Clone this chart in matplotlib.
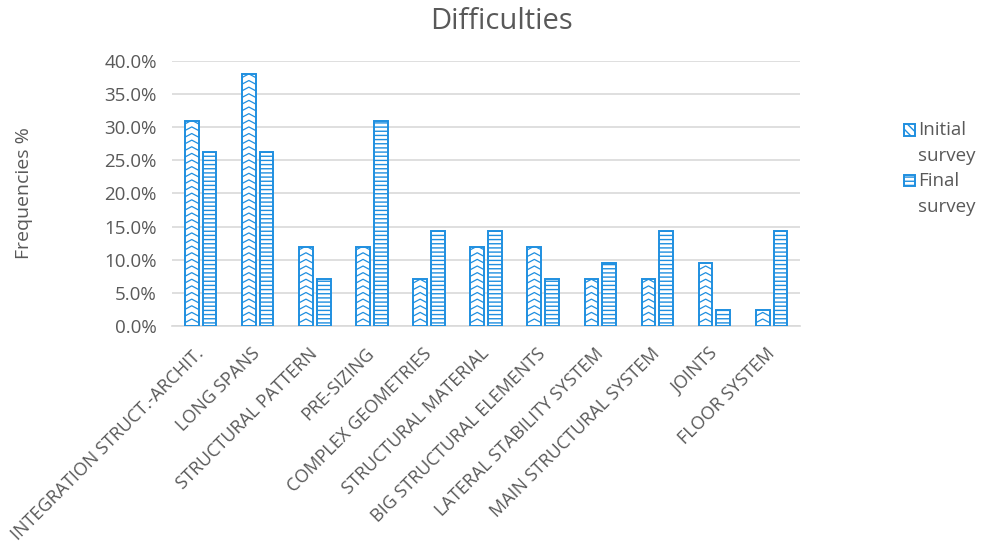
import numpy as np
import matplotlib.pyplot as plt
from matplotlib.patches import Rectangle
from matplotlib.ticker import FuncFormatter

categories = ['INTEGRATION STRUCT.-ARCHIT.', 'LONG SPANS', 'STRUCTURAL PATTERN',
              'PRE-SIZING', 'COMPLEX GEOMETRIES', 'STRUCTURAL MATERIAL',
              'BIG STRUCTURAL ELEMENTS', 'LATERAL STABILITY SYSTEM',
              'MAIN STRUCTURAL SYSTEM', 'JOINTS', 'FLOOR SYSTEM']
initial_survey = [31.0, 38.1, 11.9, 11.9, 7.1, 11.9, 11.9, 7.1, 7.1, 9.5, 2.4]
final_survey = [26.2, 26.2, 7.1, 31.0, 14.3, 14.3, 7.1, 9.5, 14.3, 2.4, 14.3]
series_names = ['Initial\nsurvey', 'Final\nsurvey']

blue = '#1F8FE0'
grey = '#595959'
plt.rcParams['font.family'] = ['Open Sans', 'DejaVu Sans']
plt.rcParams['hatch.color'] = blue
plt.rcParams['hatch.linewidth'] = 1.0

fig = plt.figure(figsize=(9.86, 5.46), dpi=100)
ax = fig.add_axes([0.1745, 0.403, 0.637, 0.4853])

x = np.arange(len(categories))
w = 0.24
gap = 0.035
bars_init = ax.bar(x - w / 2 - gap, initial_survey, w, facecolor='white',
                   edgecolor=blue, linewidth=1.4, zorder=3)
bars_final = ax.bar(x + w / 2 + gap, final_survey, w, facecolor='white',
                    edgecolor=blue, hatch='----', linewidth=1.4, zorder=3)

# chevron fill for the initial survey bars, clipped to each bar
for b in bars_init:
    x0, bw, h = b.get_x(), b.get_width(), b.get_height()
    xs, ys = [], []
    for y0 in np.arange(-0.5, h + 1.0, 1.0):
        xs += [x0, x0 + bw / 2, x0 + bw, np.nan]
        ys += [y0, y0 + 0.55, y0, np.nan]
    ln, = ax.plot(xs, ys, color=blue, lw=0.9, zorder=3.5)
    ln.set_clip_path(b)

ax.set_ylim(0, 40)
ax.set_xlim(-0.5, len(categories) - 0.5)
ax.set_yticks(np.arange(0, 41, 5))
ax.yaxis.set_major_formatter(FuncFormatter(lambda v, p: f'{v:.1f}%'))
ax.grid(axis='y', color='#D9D9D9', linewidth=1.2, zorder=0)
for s in ['top', 'right', 'left']:
    ax.spines[s].set_visible(False)
ax.spines['bottom'].set_color('#D9D9D9')
ax.spines['bottom'].set_linewidth(1.2)
ax.tick_params(length=0, colors=grey, labelsize=13.5)
ax.tick_params(axis='y', pad=11)
ax.tick_params(axis='x', pad=18)

ax.set_xticks(x)
ax.set_xticklabels(categories, rotation=45, ha='right', va='center',
                   rotation_mode='anchor', fontsize=13, color=grey)

ax.set_ylabel('Frequencies %', fontsize=14, color=grey)
ax.yaxis.set_label_coords(-0.221, 0.5)
fig.text(0.509, 0.96, 'Difficulties', fontsize=21, color=grey,
         ha='center', va='center')

# legend on the right: hatched squares with two-line labels
legend_y = [1 - 130 / 546, 1 - 181 / 546]
legend_hatch = ['\\\\\\\\', '----']
for name, yy, hp in zip(series_names, legend_y, legend_hatch):
    fig.patches.append(Rectangle((904 / 986, yy - 5.5 / 546), 11 / 986, 11 / 546,
                                 transform=fig.transFigure, facecolor='white',
                                 edgecolor=blue, hatch=hp, linewidth=1.4))
    fig.text(918 / 986, yy + 9 / 546, name, fontsize=13.5, color=grey,
             ha='left', va='top', linespacing=1.55)

fig.savefig('out.png', dpi=100)
